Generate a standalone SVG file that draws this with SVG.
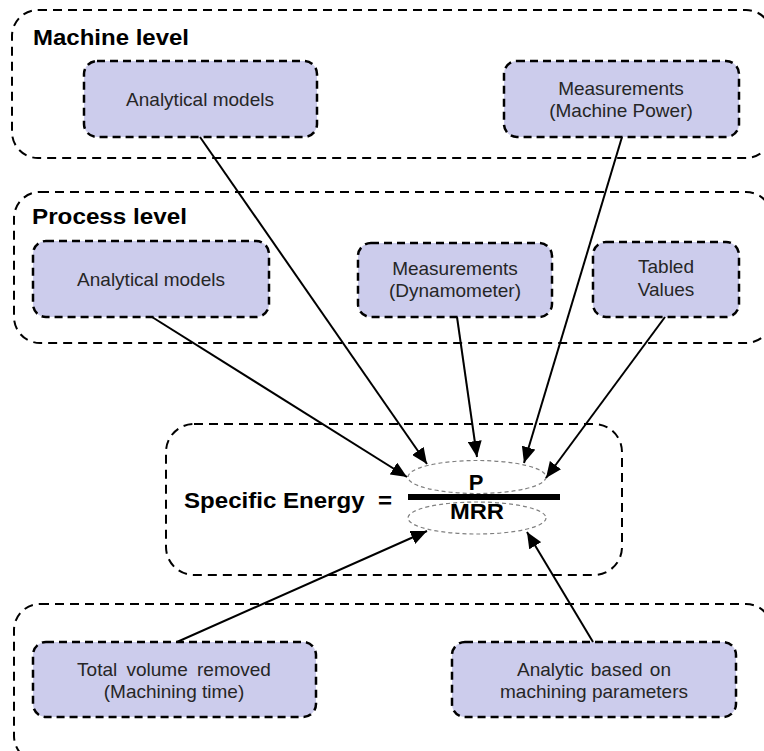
<svg xmlns="http://www.w3.org/2000/svg" width="764" height="751" viewBox="0 0 764 751">
<style>
.bg{fill:#ffffff}
.container{fill:none;stroke:#000;stroke-width:2;stroke-dasharray:9 6}
.node{fill:#ccccec;stroke:#000;stroke-width:2.5;stroke-dasharray:8 5}
.ntext{font-family:"Liberation Sans",Arial,sans-serif;font-size:19px;fill:#262626;text-anchor:middle}
.title{font-family:"Liberation Sans",Arial,sans-serif;font-size:22px;font-weight:bold;fill:#000}
.eq{font-family:"Liberation Sans",Arial,sans-serif;font-size:22px;font-weight:bold;fill:#000}
.oval{fill:none;stroke:#808080;stroke-width:1.2;stroke-dasharray:4 3}
.conn{fill:none;stroke:#000;stroke-width:2}
</style>
<defs>
<marker id="arrow" markerUnits="userSpaceOnUse" markerWidth="18" markerHeight="14" refX="16" refY="7" orient="auto">
<path d="M0,0 L16,7 L0,14 Z" fill="#000"/>
</marker>
</defs>
<rect class="bg" x="0" y="0" width="764" height="751"/>

<g id="machine-level">
<rect class="container" x="12" y="10" width="760" height="148" rx="26"/>
<text class="title" x="33" y="45" textLength="156" lengthAdjust="spacingAndGlyphs">Machine level</text>
</g>
<g id="process-level">
<rect class="container" x="14" y="192" width="758" height="151" rx="26"/>
<text class="title" x="32" y="224" textLength="155" lengthAdjust="spacingAndGlyphs">Process level</text>
</g>
<g id="mrr-level">
<rect class="container" x="14" y="604" width="758" height="158" rx="26"/>
</g>

<g id="machine-analytical">
<rect class="node" x="84" y="61" width="233" height="76" rx="13"/>
<text class="ntext" x="200" y="106">Analytical models</text>
</g>
<g id="machine-measurements">
<rect class="node" x="504" y="61" width="235" height="76" rx="13"/>
<text class="ntext" x="621" y="95">Measurements</text>
<text class="ntext" x="621" y="117">(Machine Power)</text>
</g>
<g id="process-analytical">
<rect class="node" x="33" y="241" width="236" height="76" rx="13"/>
<text class="ntext" x="151" y="286">Analytical models</text>
</g>
<g id="process-measurements">
<rect class="node" x="358" y="243" width="194" height="74" rx="13"/>
<text class="ntext" x="455" y="275">Measurements</text>
<text class="ntext" x="455" y="297">(Dynamometer)</text>
</g>
<g id="tabled-values">
<rect class="node" x="593" y="242" width="146" height="75" rx="13"/>
<text class="ntext" x="666" y="273">Tabled</text>
<text class="ntext" x="666" y="296">Values</text>
</g>
<g id="total-volume">
<rect class="node" x="33" y="642" width="283" height="75" rx="13"/>
<text class="ntext" x="174" y="676" word-spacing="4">Total volume removed</text>
<text class="ntext" x="174" y="698">(Machining time)</text>
</g>
<g id="analytic-parameters">
<rect class="node" x="452" y="642" width="284" height="75" rx="13"/>
<text class="ntext" x="594" y="676" word-spacing="2">Analytic based on</text>
<text class="ntext" x="594" y="698">machining parameters</text>
</g>

<g id="specific-energy">
<rect class="container" x="166" y="424" width="456" height="151" rx="28"/>
<text class="eq" x="184" y="508" textLength="208" lengthAdjust="spacingAndGlyphs" xml:space="preserve">Specific Energy  =</text>
<ellipse class="oval" cx="477" cy="477" rx="69" ry="16.5"/>
<ellipse class="oval" cx="477" cy="518" rx="69" ry="16"/>
<rect x="408" y="494" width="152" height="6" fill="#000"/>
<text class="eq" x="476" y="490" text-anchor="middle">P</text>
<text class="eq" x="477" y="519" text-anchor="middle" textLength="54" lengthAdjust="spacingAndGlyphs">MRR</text>
</g>

<g id="connectors">
<line class="conn" x1="200" y1="137" x2="427" y2="464" marker-end="url(#arrow)"/>
<line class="conn" x1="152" y1="317" x2="407" y2="477" marker-end="url(#arrow)"/>
<line class="conn" x1="457" y1="317" x2="477" y2="457" marker-end="url(#arrow)"/>
<line class="conn" x1="622" y1="137" x2="524" y2="463" marker-end="url(#arrow)"/>
<line class="conn" x1="665" y1="317" x2="546" y2="478" marker-end="url(#arrow)"/>
<line class="conn" x1="177" y1="642" x2="427" y2="531" marker-end="url(#arrow)"/>
<line class="conn" x1="593" y1="642" x2="527" y2="532" marker-end="url(#arrow)"/>
</g>
</svg>
